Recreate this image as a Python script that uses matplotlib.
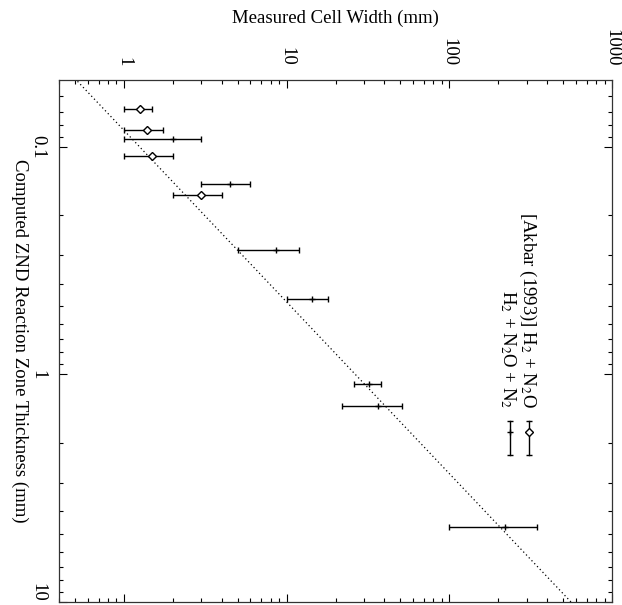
import matplotlib
matplotlib.use("Agg")
import matplotlib.pyplot as plt
from matplotlib.ticker import FixedLocator, FixedFormatter, LogLocator, NullFormatter

plt.rcParams['font.family'] = ['Liberation Serif', 'DejaVu Serif']
plt.rcParams['mathtext.fontset'] = 'stix'

# ---- data (cell width in mm, ZND thickness in mm) ----
# H2 + N2O (diamonds)
a_znd = [0.068, 0.084, 0.110, 0.162]
a_cell = [1.25, 1.38, 1.50, 3.0]
a_lo = [1.0, 1.0, 1.0, 2.0]
a_hi = [1.5, 1.75, 2.0, 4.0]

# H2 + N2O + N2 (plus)
b_znd = [0.0925, 0.145, 0.285, 0.467, 1.10, 1.38, 4.7]
b_cell = [2.0, 4.5, 8.6, 14.4, 32.0, 36.5, 220.0]
b_lo = [1.0, 3.0, 5.0, 10.0, 26.0, 22.0, 100.0]
b_hi = [3.0, 6.0, 12.0, 18.0, 38.0, 51.0, 345.0]

# correlation line endpoints
line_znd = [0.05, 10.0]
line_cell = [0.50, 560.0]

x_ticks = [1, 10, 100, 1000]
x_ticklabels = ['1', '10', '100', '1000']
y_ticks = [0.1, 1, 10]
y_ticklabels = ['0.1', '1', '10']

legend_labels = ['[Akbar (1993)] H$_2$ + N$_2$O', 'H$_2$ + N$_2$O + N$_2$']

fig = plt.figure(figsize=(6.22, 6.05), dpi=100)
ax = fig.add_axes([59/622, 1-602/605, 553/622, 522/605])

ax.set_xscale('log')
ax.set_yscale('log')
ax.set_xlim(0.4, 1000)
ax.set_ylim(10, 0.0508)

ax.plot(line_cell, line_znd, color='black', lw=0.9, linestyle=(0, (1, 2.2)))

def errs(c, lo, hi):
    return [[ci - l for ci, l in zip(c, lo)], [h - ci for ci, h in zip(c, hi)]]

ax.errorbar(a_cell, a_znd, xerr=errs(a_cell, a_lo, a_hi), fmt='D', color='black',
            mfc='white', mec='black', ms=4, mew=1.0, elinewidth=1.0, capsize=2.3, capthick=1.0)
ax.errorbar(b_cell, b_znd, xerr=errs(b_cell, b_lo, b_hi), fmt='+', color='black',
            ms=5, mew=1.0, elinewidth=1.0, capsize=2.3, capthick=1.0)

# legend (drawn rotated)
fs = 13.5
ax.text(0.839, 0.3716, legend_labels[0], transform=ax.transAxes, rotation=270,
        rotation_mode='anchor', ha='right', va='baseline', fontsize=fs)
ax.text(0.803, 0.3716, legend_labels[1], transform=ax.transAxes, rotation=270,
        rotation_mode='anchor', ha='right', va='baseline', fontsize=fs)
for xs, mk, mfc in [(0.8505, 'D', 'white'), (0.816, '+', 'black')]:
    ax.plot([xs, xs], [0.2816, 0.3473], color='black', lw=1.0, transform=ax.transAxes)
    ax.plot([xs, xs], [0.2816, 0.3473], ls='none', marker='_', ms=5, mew=1.0,
            color='black', transform=ax.transAxes)
    ax.plot([xs], [0.325], ls='none', marker=mk, ms=4 if mk == 'D' else 5, mew=1.0,
            mfc=mfc, mec='black', color='black', transform=ax.transAxes)

# axes styling
ax.xaxis.tick_top()
ax.xaxis.set_label_position('top')
ax.xaxis.set_major_locator(FixedLocator(x_ticks))
ax.xaxis.set_major_formatter(FixedFormatter(x_ticklabels))
ax.yaxis.set_major_locator(FixedLocator(y_ticks))
ax.yaxis.set_major_formatter(FixedFormatter(y_ticklabels))
ax.xaxis.set_minor_locator(LogLocator(base=10, subs=range(2, 10), numticks=20))
ax.yaxis.set_minor_locator(LogLocator(base=10, subs=range(2, 10), numticks=20))
ax.xaxis.set_minor_formatter(NullFormatter())
ax.yaxis.set_minor_formatter(NullFormatter())

ax.tick_params(which='both', direction='in', top=True, bottom=True, left=True, right=True,
               width=0.8, colors='black')
ax.tick_params(which='major', length=5.5)
ax.tick_params(which='minor', length=2.6)
ax.tick_params(axis='x', which='major', labelsize=fs, pad=10, labelrotation=270)
ax.tick_params(axis='y', which='major', labelsize=fs, pad=9, labelrotation=270)
ylabs = ax.get_yticklabels()
for lab in ylabs:
    lab.set_va('center')
ylabs[-1].set_va('bottom')

for sp in ax.spines.values():
    sp.set_linewidth(0.9)
    sp.set_color('#333333')

ax.set_xlabel('Measured Cell Width (mm)', fontsize=fs, labelpad=4)
ax.set_ylabel('Computed ZND Reaction Zone Thickness (mm)', fontsize=fs, rotation=270,
              va='center')
ax.yaxis.set_label_coords(-0.071, 0.5)

fig.savefig('out.png', dpi=100)
